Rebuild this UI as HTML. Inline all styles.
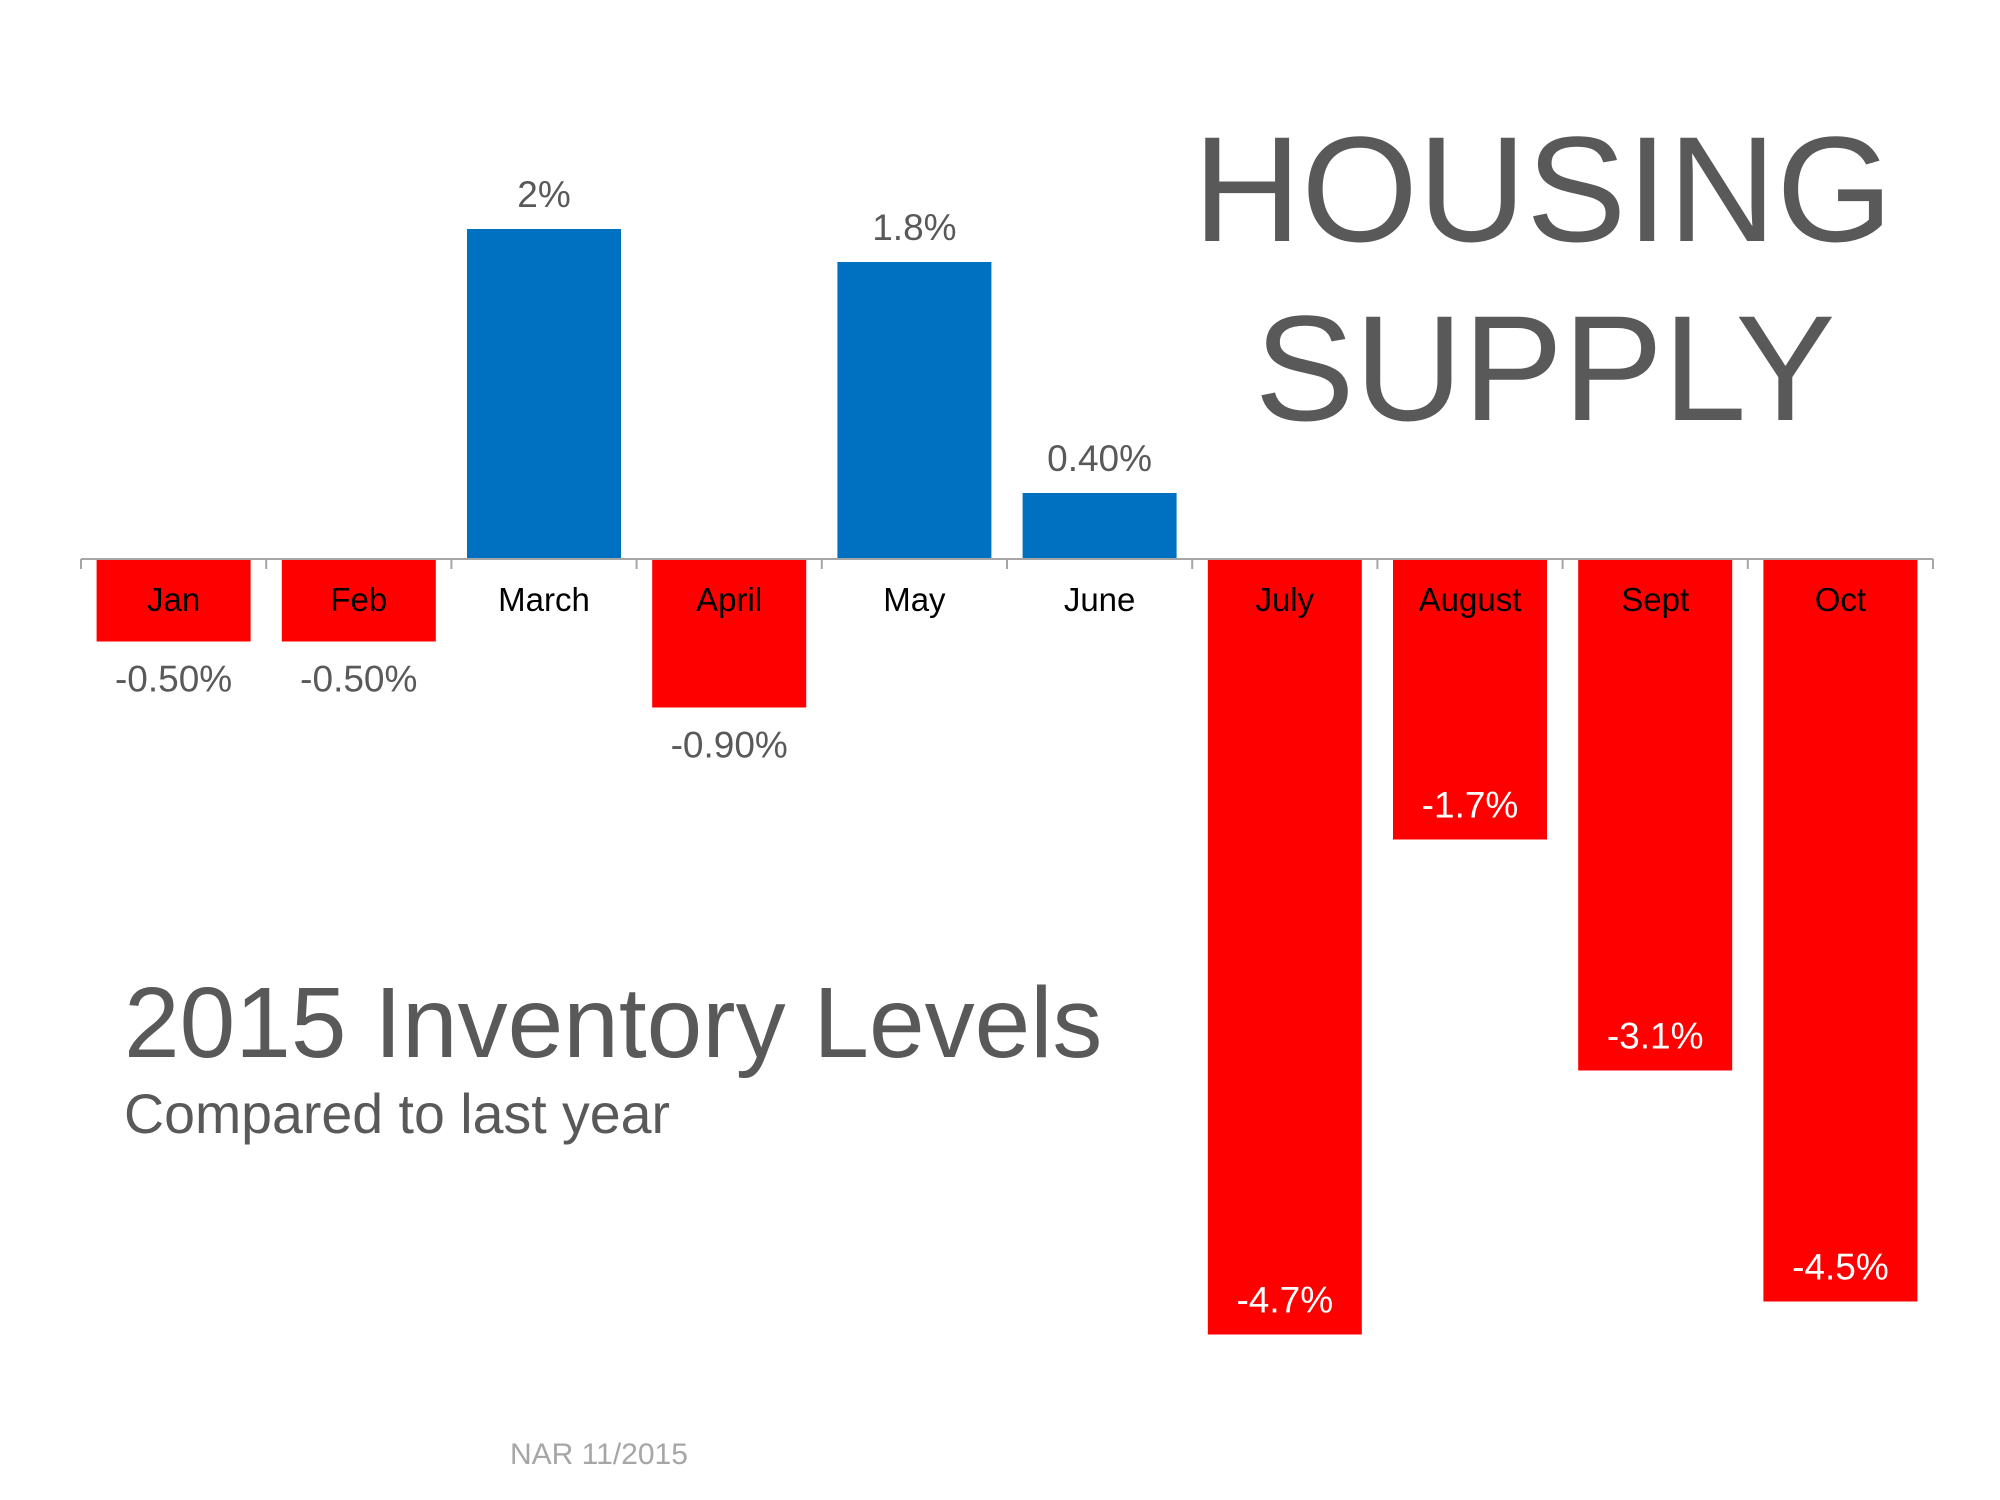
<!DOCTYPE html>
<html><head><meta charset="utf-8"><style>
html,body{margin:0;padding:0;background:#fff;}
svg{display:block;font-family:"Liberation Sans",Arial,sans-serif;}
</style></head><body>
<svg id="chart" width="2000" height="1500" viewBox="0 0 2000 1500">
<text x="1543" y="241" font-size="150" fill="#595959" text-anchor="middle">HOUSING</text>
<text x="1545" y="420" font-size="150" fill="#595959" text-anchor="middle">SUPPLY</text>
<text x="124" y="1057" font-size="100" fill="#595959">2015 Inventory Levels</text>
<text x="124" y="1133" font-size="55.5" fill="#595959">Compared to last year</text>
<text x="510" y="1464" font-size="30" fill="#a6a6a6">NAR 11/2015</text>
<g id="bars"></g>
<g id="axis"></g>
<g id="labels"></g>
</svg>
<script>
const categories = ["Jan","Feb","March","April","May","June","July","August","Sept","Oct"];
const values = [-0.5,-0.5,2,-0.9,1.8,0.4,-4.7,-1.7,-3.1,-4.5];
const valueLabels = ["-0.50%","-0.50%","2%","-0.90%","1.8%","0.40%","-4.7%","-1.7%","-3.1%","-4.5%"];

const NS = "http://www.w3.org/2000/svg";
const x0 = 81, x1 = 1933, y0 = 559, pxPerUnit = 165;
const band = (x1 - x0) / categories.length;
const barW = 154;
function xPos(i){ return x0 + band * i + band / 2; }
function yPos(v){ return y0 - v * pxPerUnit; }
function mk(tag, attrs, parent){
  const e = document.createElementNS(NS, tag);
  for (const k in attrs) e.setAttribute(k, attrs[k]);
  parent.appendChild(e);
  return e;
}
const gb = document.getElementById("bars"), ga = document.getElementById("axis"), gl = document.getElementById("labels");
categories.forEach((c, i) => {
  const v = values[i];
  const top = Math.min(yPos(v), y0), h = Math.abs(yPos(v) - y0);
  const r = mk("rect", {x: xPos(i) - barW/2, y: top, width: barW, height: h, fill: v >= 0 ? "#0070c0" : "#ff0000"}, gb);
  
  
  const t = mk("text", {x: xPos(i), y: 611, "font-size": 33, fill: "#000", "text-anchor": "middle"}, gl);
  t.textContent = c;
  
  
  let ly, fill = "#595959";
  if (v >= 0) ly = yPos(v) - 22;
  else if (v > -1) ly = yPos(v) + 50;
  else { ly = yPos(v) - 22; fill = "#fff"; }
  const vl = mk("text", {x: xPos(i), y: ly, "font-size": 37, fill: fill, "text-anchor": "middle"}, gl);
  vl.textContent = valueLabels[i];
  
  
});
const axl = mk("line", {x1: x0, x2: x1, y1: y0, y2: y0, stroke: "#a6a6a6", "stroke-width": 2}, ga);


for (let k = 0; k <= categories.length; k++) {
  const tk = mk("line", {x1: x0 + band*k, x2: x0 + band*k, y1: y0, y2: y0 + 10, stroke: "#a6a6a6", "stroke-width": 2}, ga);
  
  
}
</script>
</body></html>
